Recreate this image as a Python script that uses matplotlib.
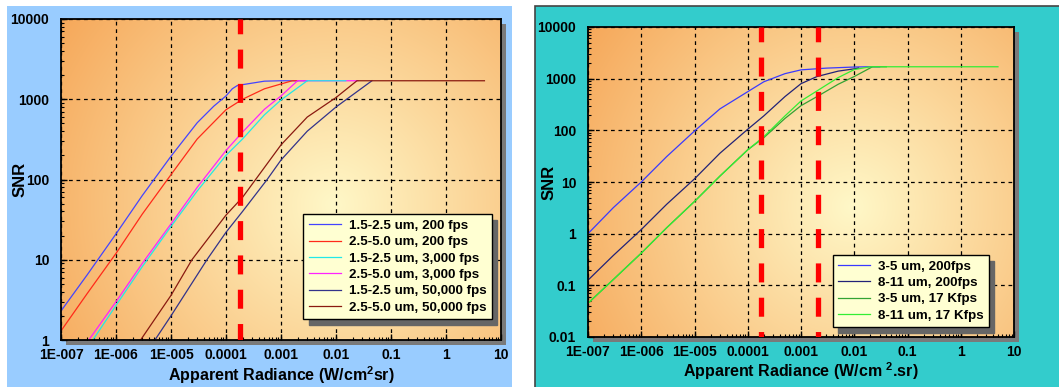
import numpy as np
import matplotlib
matplotlib.use('Agg')
import matplotlib.pyplot as plt
from matplotlib.patches import Rectangle
from matplotlib.ticker import FixedLocator, LogLocator, NullFormatter

plt.rcParams['font.family'] = ['Liberation Sans', 'DejaVu Sans']
plt.rcParams['mathtext.fontset'] = 'custom'
plt.rcParams['mathtext.bf'] = 'Liberation Sans:bold'
plt.rcParams['mathtext.rm'] = 'Liberation Sans:bold'

# ---------------- data ----------------
x_ticks = [1e-7, 1e-6, 1e-5, 1e-4, 1e-3, 1e-2, 1e-1, 1, 10]
x_tick_labels = ['1E-007', '1E-006', '1E-005', '0.0001', '0.001', '0.01', '0.1', '1', '10']

left_y_ticks = [1, 10, 100, 1000, 10000]
left_y_labels = ['1', '10', '100', '1000', '10000']
right_y_ticks = [0.01, 0.1, 1, 10, 100, 1000, 10000]
right_y_labels = ['0.01', '0.1', '1', '10', '100', '1000', '10000']

left_labels = ['1.5-2.5 um, 200 fps', '2.5-5.0 um, 200 fps', '1.5-2.5 um, 3,000 fps',
               '2.5-5.0 um, 3,000 fps', '1.5-2.5 um, 50,000 fps', '2.5-5.0 um, 50,000 fps']
left_colors = ['#4444ff', '#ff2a1a', '#22e8e8', '#ff22ff', '#33338a', '#8a1a10']

# left: 1.5-2.5 um, 200 fps
l1_x = [1e-7, 3e-7, 1e-6, 3e-6, 1e-5, 3e-5, 6e-5, 1e-4, 1.3e-4, 1.6e-4, 2e-4, 5e-4, 1e-3, 3e-3]
l1_y = [2.3, 6.5, 21, 63, 195, 510, 820, 1100, 1350, 1480, 1520, 1680, 1700, 1700]
# left: 2.5-5.0 um, 200 fps
l2_x = [1e-7, 3e-7, 1e-6, 3e-6, 1e-5, 3e-5, 1e-4, 2e-4, 5e-4, 1e-3, 1.6e-3, 2e-3]
l2_y = [1.3, 3.8, 12, 37, 115, 320, 740, 1000, 1350, 1550, 1700, 1700]
# left: 1.5-2.5 um, 3,000 fps
l3_x = [3.8e-7, 1e-6, 3e-6, 1e-5, 3e-5, 1e-4, 2e-4, 5e-4, 1e-3, 3e-3, 1.5e-2]
l3_y = [1, 2.7, 8.2, 26, 72, 200, 320, 640, 980, 1700, 1700]
# left: 2.5-5.0 um, 3,000 fps
l4_x = [3.2e-7, 1e-6, 3e-6, 1e-5, 3e-5, 1e-4, 2e-4, 5e-4, 1e-3, 2e-3, 2.5e-2]
l4_y = [1, 3.0, 9.0, 28, 80, 230, 390, 750, 1100, 1700, 1700]
# left: 1.5-2.5 um, 50,000 fps
l5_x = [5.1e-6, 1e-5, 4.5e-5, 1e-4, 2e-4, 5.6e-4, 1e-3, 3e-3, 1e-2, 4.5e-2]
l5_y = [1, 2.0, 10, 22, 40, 100, 175, 400, 800, 1700]
# left: 2.5-5.0 um, 50,000 fps
l6_x = [2.8e-6, 1e-5, 2.4e-5, 1e-4, 2e-4, 1e-3, 3e-3, 1e-2, 2.4e-2, 5.0]
l6_y = [1, 3.6, 10, 36, 60, 270, 600, 1050, 1700, 1700]

right_labels = ['3-5 um, 200fps', '8-11 um, 200fps', '3-5 um, 17 Kfps', '8-11 um, 17 Kfps']
right_colors = ['#3a3aff', '#222277', '#33a333', '#33ee33']

# right: 3-5 um, 200fps
r1_x = [1e-7, 3e-7, 1e-6, 3e-6, 1e-5, 3e-5, 1e-4, 2e-4, 5e-4, 1e-3, 3e-3, 1e-2, 2e-2, 3e-2]
r1_y = [1, 3.2, 10, 31, 97, 260, 560, 870, 1250, 1480, 1600, 1680, 1700, 1700]
# right: 8-11 um, 200fps
r2_x = [1e-7, 3e-7, 1e-6, 3e-6, 1e-5, 3e-5, 1e-4, 2e-4, 5e-4, 1e-3, 2e-3, 5e-3, 1e-2, 1.2e-2]
r2_y = [0.126, 0.38, 1.2, 3.7, 11.5, 36, 105, 190, 450, 800, 1100, 1400, 1550, 1600]
# right: 3-5 um, 17 Kfps
r3_x = [1e-7, 3e-7, 1e-6, 3e-6, 1e-5, 3e-5, 1e-4, 2e-4, 5e-4, 1e-3, 2e-3, 5e-3, 1e-2, 2.2e-2, 4e-2]
r3_y = [0.045, 0.13, 0.42, 1.3, 4.2, 13, 42, 72, 170, 300, 450, 780, 1100, 1700, 1700]
# right: 8-11 um, 17 Kfps
r4_x = [1e-7, 3e-7, 1e-6, 3e-6, 1e-5, 3e-5, 1e-4, 2e-4, 5e-4, 1e-3, 2e-3, 5e-3, 1e-2, 2e-2, 5.0]
r4_y = [0.045, 0.13, 0.42, 1.3, 4.2, 13, 42, 75, 190, 370, 580, 1050, 1500, 1700, 1700]

left_markers = [1.8e-4]
right_markers = [1.8e-4, 2.1e-3]

# ---------------- figure ----------------
W, H = 1059, 387
fig = plt.figure(figsize=(W / 100, H / 100), dpi=100)
fig.patch.set_facecolor('white')


def fx(px):
    return px / W


def fy(py):
    return 1 - py / H


# panel backgrounds
fig.add_artist(Rectangle((fx(7), 0), fx(512) - fx(7), fy(6), transform=fig.transFigure,
                         facecolor='#99ccff', edgecolor='none', zorder=-3))
fig.add_artist(Rectangle((fx(535), -0.01), 1.01 - fx(535), fy(6) + 0.01, transform=fig.transFigure,
                         facecolor='#33cccc', edgecolor='#444444', linewidth=1.2, zorder=-3))


def gradient(wpx, hpx):
    n = 300
    u = np.linspace(0, 1, n)
    v = np.linspace(1, 0, n)
    U, V = np.meshgrid(u, v)
    cx, cy = 0.62, 0.42
    d = np.sqrt(((U - cx) * wpx) ** 2 + ((V - cy) * hpx) ** 2)
    d = d / np.sqrt((cx * wpx) ** 2 + ((1 - cy) * hpx) ** 2)
    t = np.clip(d, 0, 1) ** 1.0
    c0 = np.array([255, 248, 200]) / 255
    c1 = np.array([246, 168, 90]) / 255
    return c0[None, None, :] * (1 - t[..., None]) + c1[None, None, :] * t[..., None]


def make_axes(px0, py0, px1, py1):
    pos = [fx(px0), fy(py1), fx(px1) - fx(px0), fy(py0) - fy(py1)]
    # drop shadow
    fig.add_artist(Rectangle((fx(px0 + 5), fy(py1 + 5)), pos[2], pos[3], transform=fig.transFigure,
                             facecolor='#7a7a7a', edgecolor='none', zorder=-2))
    bg = fig.add_axes(pos, zorder=-1)
    bg.imshow(gradient(px1 - px0, py1 - py0), extent=[0, 1, 0, 1], aspect='auto', interpolation='bilinear')
    bg.axis('off')
    ax = fig.add_axes(pos, zorder=1)
    ax.set_facecolor('none')
    return ax


def style_axes(ax, yticks, ylabels, ylim):
    ax.set_xscale('log')
    ax.set_yscale('log')
    ax.set_xlim(1e-7, 10)
    ax.set_ylim(*ylim)
    ax.xaxis.set_major_locator(FixedLocator(x_ticks))
    ax.set_xticklabels(x_tick_labels)
    ax.yaxis.set_major_locator(FixedLocator(yticks))
    ax.set_yticklabels(ylabels)
    ax.xaxis.set_minor_locator(LogLocator(base=10, subs=np.arange(2, 10), numticks=20))
    ax.yaxis.set_minor_locator(LogLocator(base=10, subs=np.arange(2, 10), numticks=20))
    ax.xaxis.set_minor_formatter(NullFormatter())
    ax.yaxis.set_minor_formatter(NullFormatter())
    ax.tick_params(which='major', direction='in', length=4, width=1, labelsize=10)
    ax.tick_params(axis='x', which='major', pad=6)
    ax.tick_params(axis='y', which='major', pad=8.5)
    ax.tick_params(which='minor', direction='in', length=2.5, width=0.8)
    for lab in ax.get_xticklabels() + ax.get_yticklabels():
        lab.set_fontweight('bold')
    ax.grid(True, which='major', color='black', linestyle=(0, (3, 3)), linewidth=0.9)
    for s in ax.spines.values():
        s.set_linewidth(1.3)
        s.set_color('black')


def add_markers(ax, xs):
    for xm in xs:
        ax.axvline(xm, ymin=1, ymax=0, color='#ff0000', linewidth=3.8,
                   linestyle=(0.8, (3.6, 2.9)), zorder=5, solid_capstyle='butt')


leg_kw = dict(loc='lower right', borderaxespad=0, prop={'weight': 'bold', 'size': 9.6},
              handlelength=2.4, handletextpad=0.6, labelspacing=0.3, borderpad=0.4,
              fancybox=False, framealpha=1, facecolor='#ffffd2', edgecolor='black',
              shadow={'color': '#666666', 'alpha': 1, 'ox': 4, 'oy': -4})

# ---------- left chart ----------
axL = make_axes(61, 19, 501, 340)
style_axes(axL, left_y_ticks, left_y_labels, (1, 10000))
left_series = [(l1_x, l1_y), (l2_x, l2_y), (l3_x, l3_y), (l4_x, l4_y), (l5_x, l5_y), (l6_x, l6_y)]
draw_order = [0, 1, 3, 2, 4, 5]
handles = [None] * 6
for i in draw_order:
    xs, ys = left_series[i]
    h, = axL.plot(xs, ys, color=left_colors[i], linewidth=0.9, label=left_labels[i])
    handles[i] = h
add_markers(axL, left_markers)
legL = axL.legend(handles=handles, bbox_to_anchor=(0.979, 0.065), **leg_kw)
legL.get_frame().set_linewidth(1.0)
legL.set_zorder(10)
axL.set_ylabel('SNR', fontsize=12, fontweight='bold')
axL.yaxis.set_label_coords(-0.075, 0.5)
fig.text(fx(281), fy(381.5), 'Apparent Radiance (W/cm$^{2}$sr)', fontsize=11.5, fontweight='bold',
         ha='center', va='baseline')

# ---------- right chart ----------
axR = make_axes(588, 27, 1014, 337)
style_axes(axR, right_y_ticks, right_y_labels, (0.01, 10000))
right_series = [(r1_x, r1_y), (r2_x, r2_y), (r3_x, r3_y), (r4_x, r4_y)]
for i, (xs, ys) in enumerate(right_series):
    axR.plot(xs, ys, color=right_colors[i], linewidth=0.9, label=right_labels[i])
add_markers(axR, right_markers)
legR = axR.legend(bbox_to_anchor=(0.941, 0.032), **leg_kw)
legR.get_frame().set_linewidth(1.0)
legR.set_zorder(10)
axR.set_ylabel('SNR', fontsize=12, fontweight='bold')
axR.yaxis.set_label_coords(-0.073, 0.5)
fig.text(fx(801), fy(377), 'Apparent Radiance (W/cm $^{2}$.sr)', fontsize=11.5, fontweight='bold',
         ha='center', va='baseline')

fig.savefig('out.png', dpi=100)
